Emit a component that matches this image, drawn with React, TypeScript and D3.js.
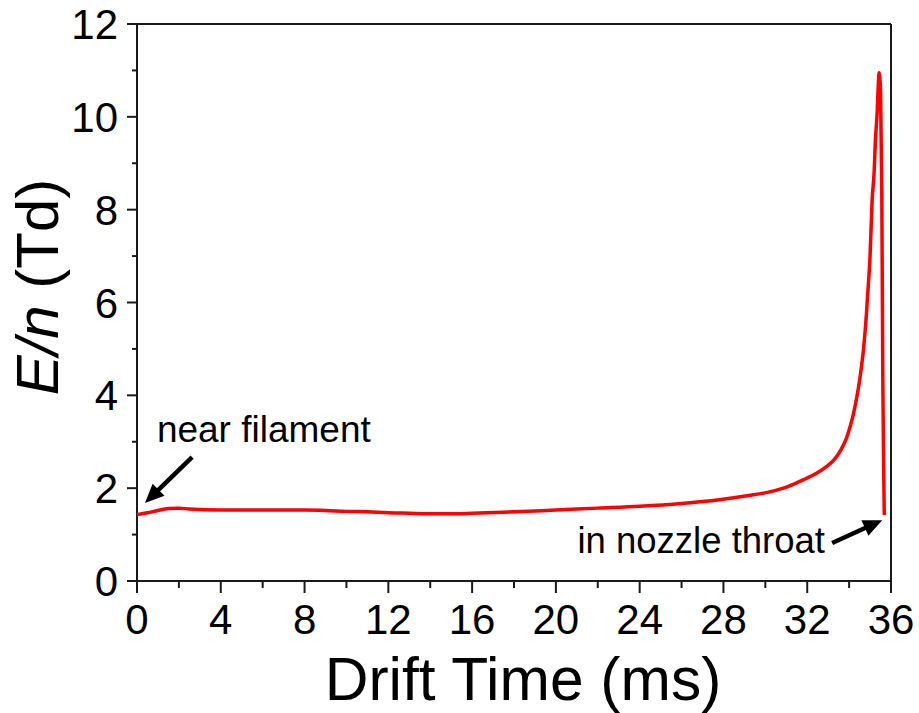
import React from "react";
import * as d3 from "d3";

// Drift time (ms) and reduced field E/n (Td) along the ion path
const driftTime = [
  0, 0.5, 1.0, 1.5, 2.0, 2.5, 4, 6, 8, 9, 10, 11, 12, 13, 14, 15, 16, 18, 20, 22, 24, 26,
  27.8, 29.2, 30.2, 31.1, 31.8, 32.4, 32.9, 33.3, 33.6, 33.85, 34.05, 34.22, 34.37, 34.5,
  34.61, 34.7, 34.77, 34.83, 34.88, 34.95, 35.0, 35.1, 35.2, 35.25, 35.34, 35.39, 35.43,
  35.5, 35.56, 35.61, 35.65, 35.68,
];
const reducedField = [
  1.43, 1.47, 1.52, 1.56, 1.57, 1.55, 1.53, 1.53, 1.53, 1.52, 1.5, 1.49, 1.47, 1.46, 1.45,
  1.45, 1.46, 1.49, 1.53, 1.57, 1.61, 1.67,
  1.75, 1.84, 1.92, 2.04, 2.18, 2.31, 2.46, 2.62, 2.82, 3.05, 3.33, 3.63, 3.97, 4.32,
  4.69, 5.05, 5.41, 5.77, 6.13, 6.6, 7.0, 8.21, 8.86, 9.44, 10.1, 10.65, 10.95,
  10.6, 8.4, 4.3, 2.4, 1.42,
];

const xMajorTicks = [0, 4, 8, 12, 16, 20, 24, 28, 32, 36];
const xMinorTicks = [2, 6, 10, 14, 18, 22, 26, 30, 34];
const yMajorTicks = [0, 2, 4, 6, 8, 10, 12];
const yMinorTicks = [1, 3, 5, 7, 9, 11];

// Annotations: text position, arrow tail and arrow tip, in data units
const nearFilament = { label: "near filament", tx: 0.95, ty: 3.0, x1: 2.63, y1: 2.67, x2: 0.38, y2: 1.68 };
const nozzleThroat = { label: "in nozzle throat", tx: 32.85, ty: 0.6, x1: 33.19, y1: 0.82, x2: 35.58, y2: 1.31 };

const W = 919;
const H = 713;
const left = 137;
const right = 891;
const top = 24;
const bottom = 581;
const font = "'Liberation Sans', Arial, Helvetica, sans-serif";

function Arrow({ x1, y1, x2, y2 }: { x1: number; y1: number; x2: number; y2: number }) {
  const dx = x2 - x1;
  const dy = y2 - y1;
  const len = Math.hypot(dx, dy);
  const ux = dx / len;
  const uy = dy / len;
  const headLen = 19;
  const headHalf = 8.5;
  const bx = x2 - ux * headLen;
  const by = y2 - uy * headLen;
  const px = -uy;
  const py = ux;
  const pts = [
    [x2, y2],
    [bx + px * headHalf, by + py * headHalf],
    [bx - px * headHalf, by - py * headHalf],
  ]
    .map((p) => p.join(","))
    .join(" ");
  return (
    <g>
      <line x1={x1} y1={y1} x2={bx + ux * 2} y2={by + uy * 2} stroke="#000" strokeWidth={4.5} />
      <polygon points={pts} fill="#000" />
    </g>
  );
}

export default function App() {
  const x = d3.scaleLinear().domain([0, 36]).range([left, right]);
  const y = d3.scaleLinear().domain([0, 12]).range([bottom, top]);

  const data = driftTime.map((t, i) => [t, reducedField[i]] as [number, number]);
  const line = d3
    .line<[number, number]>()
    .x((d) => x(d[0]))
    .y((d) => y(d[1]))
    .curve(d3.curveMonotoneX);

  const axisColor = "#1a1a1a";

  return (
    <svg
      width={W}
      height={H}
      style={{ position: "absolute", left: 0, top: 0, background: "#fff" }}
      fontFamily={font}
    >
      <rect x={0} y={0} width={W} height={H} fill="#fff" />

      {/* frame */}
      <line x1={left - 10} y1={top} x2={right} y2={top} stroke={axisColor} strokeWidth={2} />
      <line x1={right} y1={top} x2={right} y2={bottom + 12} stroke={axisColor} strokeWidth={2} />
      <line x1={left} y1={top} x2={left} y2={bottom + 12} stroke={axisColor} strokeWidth={2} />
      <line x1={left - 10} y1={bottom} x2={right} y2={bottom} stroke={axisColor} strokeWidth={2} />

      {/* x ticks */}
      {xMajorTicks.map((t) => (
        <g key={"xm" + t}>
          <line x1={x(t)} x2={x(t)} y1={bottom} y2={bottom + 12} stroke={axisColor} strokeWidth={2} />
          <text x={x(t)} y={634} textAnchor="middle" fontSize={42} fill="#000">
            {t}
          </text>
        </g>
      ))}
      {xMinorTicks.map((t) => (
        <line key={"xn" + t} x1={x(t)} x2={x(t)} y1={bottom} y2={bottom + 7} stroke={axisColor} strokeWidth={2} />
      ))}

      {/* y ticks */}
      {yMajorTicks.map((t) => (
        <g key={"ym" + t}>
          <line x1={left - 10} x2={left} y1={y(t)} y2={y(t)} stroke={axisColor} strokeWidth={2} />
          <text x={118} y={y(t) + 15} textAnchor="end" fontSize={42} fill="#000">
            {t}
          </text>
        </g>
      ))}
      {yMinorTicks.map((t) => (
        <line key={"yn" + t} x1={left - 5} x2={left} y1={y(t)} y2={y(t)} stroke={axisColor} strokeWidth={2} />
      ))}

      {/* axis titles */}
      <text x={523} y={700} textAnchor="middle" fontSize={60.5} fill="#000">
        Drift Time (ms)
      </text>
      <text
        transform="translate(58,287) rotate(-90)"
        textAnchor="middle"
        fontSize={60}
        fill="#000"
      >
        <tspan fontStyle="italic">E/n</tspan>
        <tspan> (Td)</tspan>
      </text>

      {/* data */}
      <path d={line(data) ?? ""} fill="none" stroke="#ff0000" strokeWidth={3.5} strokeLinejoin="round" />

      {/* annotations */}
      <text x={x(nearFilament.tx)} y={y(nearFilament.ty)} fontSize={37} fill="#000">
        {nearFilament.label}
      </text>
      <Arrow x1={x(nearFilament.x1)} y1={y(nearFilament.y1)} x2={x(nearFilament.x2)} y2={y(nearFilament.y2)} />
      <text x={x(nozzleThroat.tx)} y={y(nozzleThroat.ty)} textAnchor="end" fontSize={36.5} fill="#000">
        {nozzleThroat.label}
      </text>
      <Arrow x1={x(nozzleThroat.x1)} y1={y(nozzleThroat.y1)} x2={x(nozzleThroat.x2)} y2={y(nozzleThroat.y2)} />
    </svg>
  );
}
